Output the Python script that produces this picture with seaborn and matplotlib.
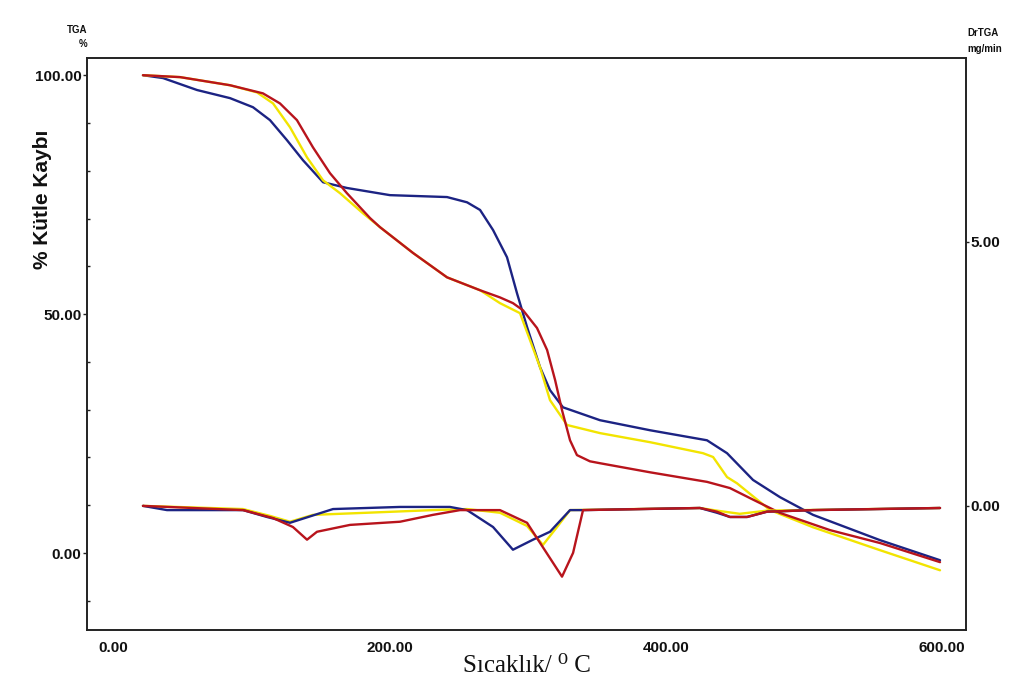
import matplotlib
matplotlib.use("Agg")
import matplotlib.pyplot as plt
from matplotlib.ticker import MultipleLocator, FixedLocator
import seaborn as sns
import pandas as pd

# ---- TGA mass curves (%), temperature in degrees C ----
blue_tga_T = [21.7, 36.2, 60.8, 84.7, 101.3, 113.6, 125.9, 137.5, 152.0, 169.3, 200.4,
              241.7, 256.2, 265.6, 275.0, 285.1, 292.3, 299.6, 309.0, 316.2, 325.6, 352.4,
              388.6, 429.8, 444.3, 463.1, 482.6, 506.5, 555.0, 598.4]
blue_tga_m = [100.0, 99.4, 96.9, 95.2, 93.3, 90.6, 86.4, 82.2, 77.6, 76.4, 74.9,
              74.5, 73.4, 71.8, 67.6, 61.9, 54.4, 47.3, 38.9, 34.1, 30.5, 27.8,
              25.7, 23.6, 20.9, 15.3, 11.7, 8.0, 2.7, -1.5]

yellow_tga_T = [21.7, 48.5, 84.7, 104.2, 115.8, 128.1, 140.4, 152.0, 164.3, 180.9, 193.2,
                217.1, 241.7, 265.6, 280.0, 294.5, 309.0, 316.2, 328.5, 352.4, 388.6,
                426.9, 434.2, 444.3, 451.5, 475.4, 506.5, 555.0, 598.4]
yellow_tga_m = [100.0, 99.6, 97.9, 96.4, 94.1, 89.1, 82.8, 78.0, 75.3, 71.1, 68.2,
                62.8, 57.7, 55.0, 52.3, 50.2, 38.9, 32.0, 26.8, 25.1, 23.2,
                20.9, 20.1, 15.9, 14.6, 9.0, 5.4, 0.6, -3.6]

red_tga_T = [21.7, 48.5, 84.7, 108.5, 120.8, 133.1, 144.7, 157.0, 169.3, 186.0, 193.2,
             217.1, 241.7, 265.6, 280.0, 289.4, 296.7, 306.8, 314.1, 319.9, 324.9, 330.7,
             335.7, 345.1, 352.4, 388.6, 429.8, 446.4, 460.9, 482.6, 518.8, 555.0, 598.4]
red_tga_m = [100.0, 99.6, 97.9, 96.2, 94.1, 90.6, 84.9, 79.5, 75.3, 70.1, 68.2,
             62.8, 57.7, 55.0, 53.5, 52.3, 50.8, 47.1, 42.5, 36.2, 29.9, 23.6,
             20.5, 19.2, 18.8, 16.9, 14.9, 13.6, 11.5, 8.4, 4.8, 2.1, -1.9]

# ---- DrTGA curves (mg/min) ----
blue_dtg_T = [21.7, 39.1, 94.1, 111.4, 128.1, 159.2, 207.7, 243.8, 256.2, 275.0, 289.4,
              303.9, 316.2, 330.7, 340.1, 424.7, 437.0, 446.4, 458.8, 473.2, 506.5, 598.4]
blue_dtg_v = [0.0, -0.08, -0.08, -0.21, -0.32, -0.06, -0.02, -0.02, -0.08, -0.40, -0.83,
              -0.64, -0.49, -0.08, -0.08, -0.04, -0.13, -0.21, -0.21, -0.11, -0.08, -0.04]

red_dtg_T = [21.7, 94.1, 115.8, 130.2, 140.4, 147.6, 171.5, 207.7, 231.5, 251.1, 280.0,
             299.6, 309.0, 324.9, 332.9, 340.1, 424.7, 437.0, 446.4, 458.8, 473.2, 506.5, 598.4]
red_dtg_v = [0.0, -0.08, -0.23, -0.40, -0.64, -0.49, -0.36, -0.30, -0.17, -0.08, -0.08,
             -0.32, -0.70, -1.34, -0.89, -0.08, -0.04, -0.11, -0.21, -0.21, -0.11, -0.08, -0.04]

yellow_dtg_T = [21.7, 94.1, 113.6, 128.1, 144.7, 183.8, 231.5, 256.2, 280.0, 299.6, 311.1,
                321.3, 330.7, 424.7, 437.0, 453.5, 473.2, 598.4]
yellow_dtg_v = [0.0, -0.06, -0.19, -0.30, -0.17, -0.13, -0.08, -0.06, -0.13, -0.38, -0.74,
                -0.40, -0.08, -0.04, -0.09, -0.15, -0.09, -0.04]

x_ticks = [0, 200, 400, 600]
left_ticks = [0, 50, 100]
right_ticks = [0, 5]

BLUE = "#1c2383"
YELLOW = "#f2e400"
RED = "#b8141c"
INK = "#111111"

sns.set_theme(style="white")
plt.rcParams["font.family"] = ["Liberation Sans", "DejaVu Sans"]

fig = plt.figure(figsize=(10.24, 6.88), dpi=100)
ax = fig.add_axes([87 / 1024, 1 - 630 / 688, (966 - 87) / 1024, (630 - 58) / 688])
ax2 = ax.twinx()

lw = 1.7
for T, m, c in [(blue_tga_T, blue_tga_m, BLUE),
                (yellow_tga_T, yellow_tga_m, YELLOW),
                (red_tga_T, red_tga_m, RED)]:
    df = pd.DataFrame({"T": T, "m": m})
    sns.lineplot(data=df, x="T", y="m", ax=ax, color=c, lw=lw, sort=False, estimator=None)

for T, v, c in [(yellow_dtg_T, yellow_dtg_v, YELLOW),
                (blue_dtg_T, blue_dtg_v, BLUE),
                (red_dtg_T, red_dtg_v, RED)]:
    df = pd.DataFrame({"T": T, "v": v})
    sns.lineplot(data=df, x="T", y="v", ax=ax2, color=c, lw=lw, sort=False, estimator=None)

ax.set_xlim(-18.8, 617.2)
ax.set_ylim(-16.1, 103.6)
ax2.set_ylim(-2.35, 8.48)

ax.xaxis.set_major_locator(FixedLocator(x_ticks))
ax.xaxis.set_minor_locator(MultipleLocator(50))
ax.set_xticklabels([f"{t:.2f}" for t in x_ticks])
ax.yaxis.set_major_locator(FixedLocator(left_ticks))
ax.yaxis.set_minor_locator(MultipleLocator(10))
ax.set_yticklabels([f"{t:.2f}" for t in left_ticks])
ax2.yaxis.set_major_locator(FixedLocator(right_ticks))
ax2.set_yticklabels([f"{t:.2f}" for t in right_ticks])

ax.tick_params(axis="x", which="both", direction="in", length=5, width=1, pad=8, colors="#222222")
ax.tick_params(axis="y", which="major", direction="out", length=3, width=1, pad=1, colors="#222222")
ax.tick_params(axis="y", which="minor", direction="in", length=2, width=1, colors="#222222")
ax2.tick_params(axis="y", which="major", direction="out", length=2, width=1, pad=1, colors="#222222")
for lab in ax.get_xticklabels() + ax.get_yticklabels() + ax2.get_yticklabels():
    lab.set_fontsize(11)
    lab.set_fontweight("bold")
    lab.set_color(INK)

for a in (ax, ax2):
    for s in a.spines.values():
        s.set_color("#222222")
        s.set_linewidth(1.2)
        s.set_visible(True)

ax.set_xlabel("Sıcaklık/ ⁰ C", fontsize=18, family=["Liberation Serif", "DejaVu Serif"],
              labelpad=0, color=INK)
ax.set_ylabel("")
ax2.set_ylabel("")

# left axis title, placed beside the tick labels
fig.text(43 / 1024, 1 - 199 / 688, "% Kütle Kaybı", rotation=90, ha="center", va="center",
         fontsize=15, fontweight="bold", color=INK)

fig.text(87 / 1024, 1 - 37 / 688, "TGA\n%", ha="right", va="center", fontsize=7,
         fontweight="bold", linespacing=1.4, color=INK)
fig.text(967 / 1024, 1 - 41 / 688, "DrTGA\nmg/min", ha="left", va="center", fontsize=7,
         fontweight="bold", linespacing=1.7, color=INK)

fig.savefig("out.png", dpi=100, facecolor="white")
